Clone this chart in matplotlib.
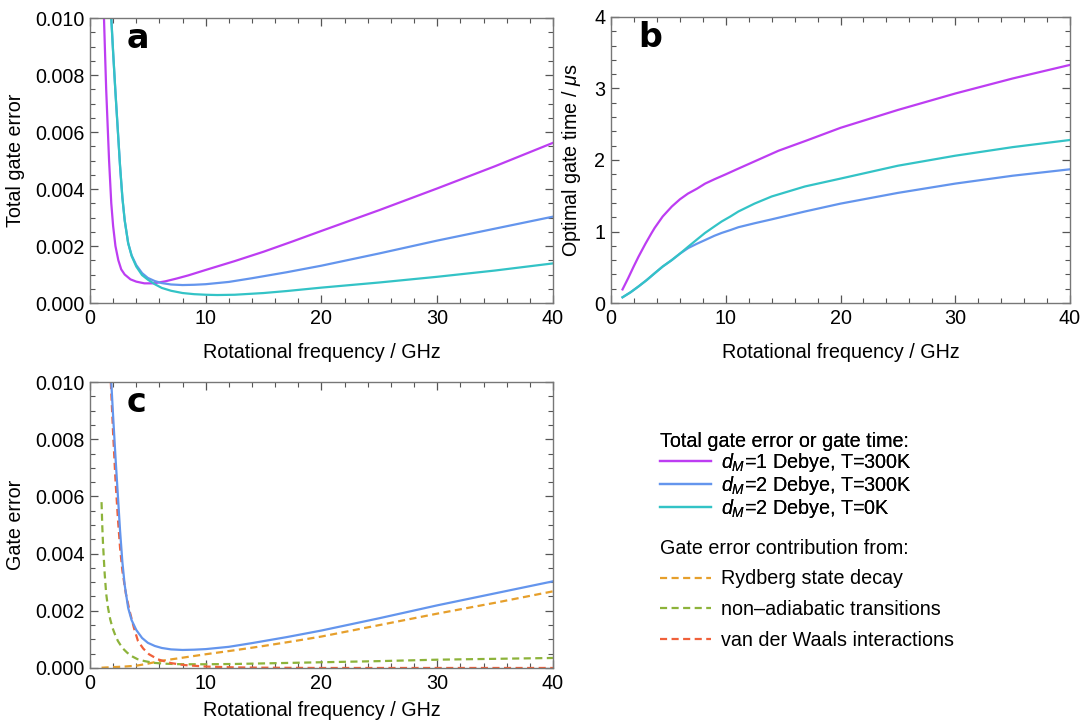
import numpy as np
import matplotlib
matplotlib.use("Agg")
import matplotlib.pyplot as plt
from matplotlib.lines import Line2D
from matplotlib.ticker import MultipleLocator

plt.rcParams['font.family'] = ['Liberation Sans', 'DejaVu Sans']
plt.rcParams['mathtext.fontset'] = 'custom'
plt.rcParams['mathtext.rm'] = 'Liberation Sans'
plt.rcParams['mathtext.it'] = 'Liberation Sans:italic'

# total gate error, d_M = 1 Debye, T = 300 K
f_d1 = [1.21, 1.3, 1.4, 1.5, 1.65, 1.84, 2.0, 2.2, 2.45, 2.7, 3.0, 3.5, 4.0, 4.7,
        5.5, 6.5, 7.5, 8.5, 10, 12.5, 15, 17.5, 20, 25, 30, 35, 40]
err_d1 = [0.0100, 0.0088, 0.0075, 0.0065, 0.0050, 0.0035, 0.0027, 0.0020, 0.0015,
          0.00118, 0.00100, 0.00083, 0.00075, 0.00069, 0.00069, 0.00076, 0.00086,
          0.00097, 0.00116, 0.00147, 0.00180, 0.00216, 0.00253, 0.00326, 0.00402,
          0.00480, 0.00562]

# total gate error, d_M = 2 Debye, T = 300 K
f_d2 = [1.84, 2.0, 2.2, 2.4, 2.6, 2.8, 3.0, 3.3, 3.6, 4.0, 4.5, 5.0, 5.6, 6.2, 7.0,
        8.0, 9.0, 10, 12, 14, 17, 20, 25, 30, 35, 40]
err_d2 = [0.0100, 0.0088, 0.0074, 0.0061, 0.0048, 0.0037, 0.0029, 0.0021, 0.00167,
          0.00133, 0.00105, 0.00088, 0.00077, 0.00070, 0.00065, 0.00063, 0.00064,
          0.00066, 0.00074, 0.00087, 0.00108, 0.00131, 0.00174, 0.00219, 0.00261,
          0.00303]

# total gate error, d_M = 2 Debye, T = 0 K
f_d2_0K = [1.84, 2.0, 2.2, 2.4, 2.6, 2.8, 3.0, 3.3, 3.6, 4.0, 4.5, 5.0, 5.6, 6.2, 7.0,
           8.0, 9.0, 10, 11, 12.5, 15, 17, 20, 25, 30, 35, 40]
err_d2_0K = [0.0100, 0.0088, 0.0074, 0.0061, 0.0048, 0.0037, 0.0029, 0.0021, 0.00165,
             0.00128, 0.00098, 0.00082, 0.00066, 0.00053, 0.00043, 0.00035, 0.00031,
             0.00029, 0.00028, 0.00029, 0.00035, 0.00042, 0.00054, 0.00072, 0.00092,
             0.00114, 0.00139]

# optimal gate time in microseconds
f_time = [1, 1.5, 2, 2.4, 3, 3.5, 3.8, 4.5, 5.3, 6, 6.7, 7.5, 8.2, 9, 10, 11.1,
          12.5, 14.6, 17, 20, 25, 30, 35, 40]
time_d1 = [0.19, 0.35, 0.52, 0.65, 0.83, 0.97, 1.05, 1.21, 1.35, 1.45, 1.53, 1.60,
           1.67, 1.73, 1.80, 1.88, 1.98, 2.13, 2.27, 2.45, 2.70, 2.93, 3.14, 3.33]
f_time2 = [1, 1.7, 2.38, 3.1, 3.83, 4.5, 5.29, 6, 6.74, 7.5, 8.19, 9, 9.64, 10.4,
           11.1, 12.5, 14, 16.9, 20, 25, 30, 35, 40]
time_d2 = [0.08, 0.15, 0.23, 0.32, 0.42, 0.51, 0.60, 0.69, 0.77, 0.83, 0.88, 0.94,
           0.98, 1.02, 1.06, 1.115, 1.17, 1.28, 1.39, 1.54, 1.67, 1.78, 1.87]
time_d2_0K = [0.08, 0.15, 0.23, 0.32, 0.42, 0.51, 0.60, 0.69, 0.79, 0.89, 0.98, 1.07,
              1.14, 1.21, 1.28, 1.39, 1.49, 1.63, 1.74, 1.92, 2.06, 2.18, 2.28]

# error contributions for d_M = 2 Debye, T = 300 K
f_ryd = [1, 2, 3, 4, 5, 6, 7, 8, 10, 12.5, 15, 17.5, 20, 25, 30, 35, 40]
err_ryd = [0.00001, 0.00003, 0.00005, 0.00008, 0.00015, 0.00024, 0.00030, 0.00036,
           0.00048, 0.00062, 0.00077, 0.00093, 0.00110, 0.00150, 0.00190, 0.00228,
           0.00268]
f_nad = [1.0, 1.06, 1.12, 1.2, 1.27, 1.4, 1.56, 1.75, 1.95, 2.2, 2.42, 2.8, 3.2, 3.57,
         4.1, 4.72, 5.5, 6.45, 8, 10, 12.5, 15, 20, 25, 30, 35, 40]
err_nad = [0.0058, 0.0050, 0.0044, 0.0038, 0.0033, 0.0026, 0.0021, 0.0017, 0.0014,
           0.00113, 0.00094, 0.00070, 0.00054, 0.00042, 0.00031, 0.00024, 0.00018,
           0.00015, 0.00013, 0.00013, 0.00014, 0.00016, 0.00020, 0.00024, 0.00029,
           0.00032, 0.00035]
f_vdw = [1.80, 2.0, 2.2, 2.4, 2.6, 2.8, 3.1, 3.42, 3.8, 4.15, 4.6, 5.1, 5.88, 7, 8.2,
         10, 12.5, 15, 20, 30, 40]
err_vdw = [0.0100, 0.0082, 0.0066, 0.0053, 0.0042, 0.0034, 0.0026, 0.0020, 0.0014,
           0.00094, 0.00068, 0.00048, 0.00030, 0.00017, 0.00010, 0.00005, 0.00002,
           0.00001, 0.0, 0.0, 0.0]

c_d1 = '#BD3DF2'
c_d2 = '#6495ED'
c_d2_0K = '#33C3C6'
c_ryd = '#E69F2B'
c_nad = '#8DB33A'
c_vdw = '#F0603A'

lw = 1.6
dash = (3.2, 2.0)
fs = 14.2

fig = plt.figure(figsize=(10.84, 7.23), dpi=100)
ax_a = fig.add_axes([0.0830, 0.5809, 0.4271, 0.3942])
ax_b = fig.add_axes([0.5637, 0.5809, 0.4234, 0.3956])
ax_c = fig.add_axes([0.0830, 0.0761, 0.4271, 0.3955])


def style(ax, ymax, ymajor, yminor, yfmt, xpad=11):
    ax.set_xlim(0, 40)
    ax.set_ylim(0, ymax)
    ax.xaxis.set_major_locator(MultipleLocator(10))
    ax.xaxis.set_minor_locator(MultipleLocator(2))
    ax.yaxis.set_major_locator(MultipleLocator(ymajor))
    ax.yaxis.set_minor_locator(MultipleLocator(yminor))
    ax.yaxis.set_major_formatter(yfmt)
    ax.tick_params(which='both', direction='in', top=True, right=True,
                   color='#555555', labelsize=fs, pad=4)
    ax.tick_params(which='major', length=6, width=0.9)
    ax.tick_params(which='minor', length=3.5, width=0.8)
    for s in ax.spines.values():
        s.set_color('#777777')
        s.set_linewidth(1.0)
    ax.set_xlabel('Rotational frequency / GHz', fontsize=fs, labelpad=xpad)


err_fmt = lambda v, p: f'{v:.3f}'
style(ax_a, 0.010, 0.002, 0.0005, err_fmt)
style(ax_b, 4, 1, 0.2, lambda v, p: f'{v:.0f}')
style(ax_c, 0.010, 0.002, 0.0005, err_fmt, xpad=6)

ax_a.plot(f_d1, err_d1, color=c_d1, lw=lw)
ax_a.plot(f_d2, err_d2, color=c_d2, lw=lw)
ax_a.plot(f_d2_0K, err_d2_0K, color=c_d2_0K, lw=lw)
ax_a.set_ylabel('Total gate error', fontsize=fs, labelpad=7)

ax_b.plot(f_time, time_d1, color=c_d1, lw=lw)
ax_b.plot(f_time2, time_d2, color=c_d2, lw=lw)
ax_b.plot(f_time2, time_d2_0K, color=c_d2_0K, lw=lw)
ax_b.set_ylabel(r'Optimal gate time / $\mu$s', fontsize=fs, labelpad=8)

ax_c.plot(f_ryd, err_ryd, color=c_ryd, lw=lw, dashes=dash)
ax_c.plot(f_nad, err_nad, color=c_nad, lw=lw, dashes=dash)
ax_c.plot(f_vdw, err_vdw, color=c_vdw, lw=lw, dashes=dash)
ax_c.plot(f_d2, err_d2, color=c_d2, lw=lw)
ax_c.set_ylabel('Gate error', fontsize=fs, labelpad=7)

for ax, letter, x in [(ax_a, 'a', 0.08), (ax_b, 'b', 0.06), (ax_c, 'c', 0.08)]:
    ax.text(x, 0.895, letter, transform=ax.transAxes, fontsize=24,
            fontweight='heavy', family='DejaVu Sans', va='baseline', ha='left')

solid = [Line2D([], [], color=c, lw=lw) for c in (c_d1, c_d2, c_d2_0K)]
dashed = [Line2D([], [], color=c, lw=lw, dashes=dash) for c in (c_ryd, c_nad, c_vdw)]

leg1 = fig.legend(solid,
                  ['$d_M$=1 Debye, T=300K', '$d_M$=2 Debye, T=300K',
                   '$d_M$=2 Debye, T=0K'],
                  title='Total gate error or gate time:', loc='upper left',
                  bbox_to_anchor=(0.609, 0.402), frameon=False, fontsize=fs,
                  title_fontsize=fs, alignment='left', handlelength=2.6,
                  handletextpad=0.5, labelspacing=0.0, borderpad=0,
                  borderaxespad=0)
fig.add_artist(leg1)
fig.legend(dashed,
           ['Rydberg state decay', 'non\u2013adiabatic transitions',
            'van der Waals interactions'],
           title='Gate error contribution from:', loc='upper left',
           bbox_to_anchor=(0.609, 0.255), frameon=False, fontsize=fs,
           title_fontsize=fs, alignment='left', handlelength=2.6,
           handletextpad=0.5, labelspacing=0.6, borderpad=0, borderaxespad=0)

fig.savefig('out.png', dpi=100)
